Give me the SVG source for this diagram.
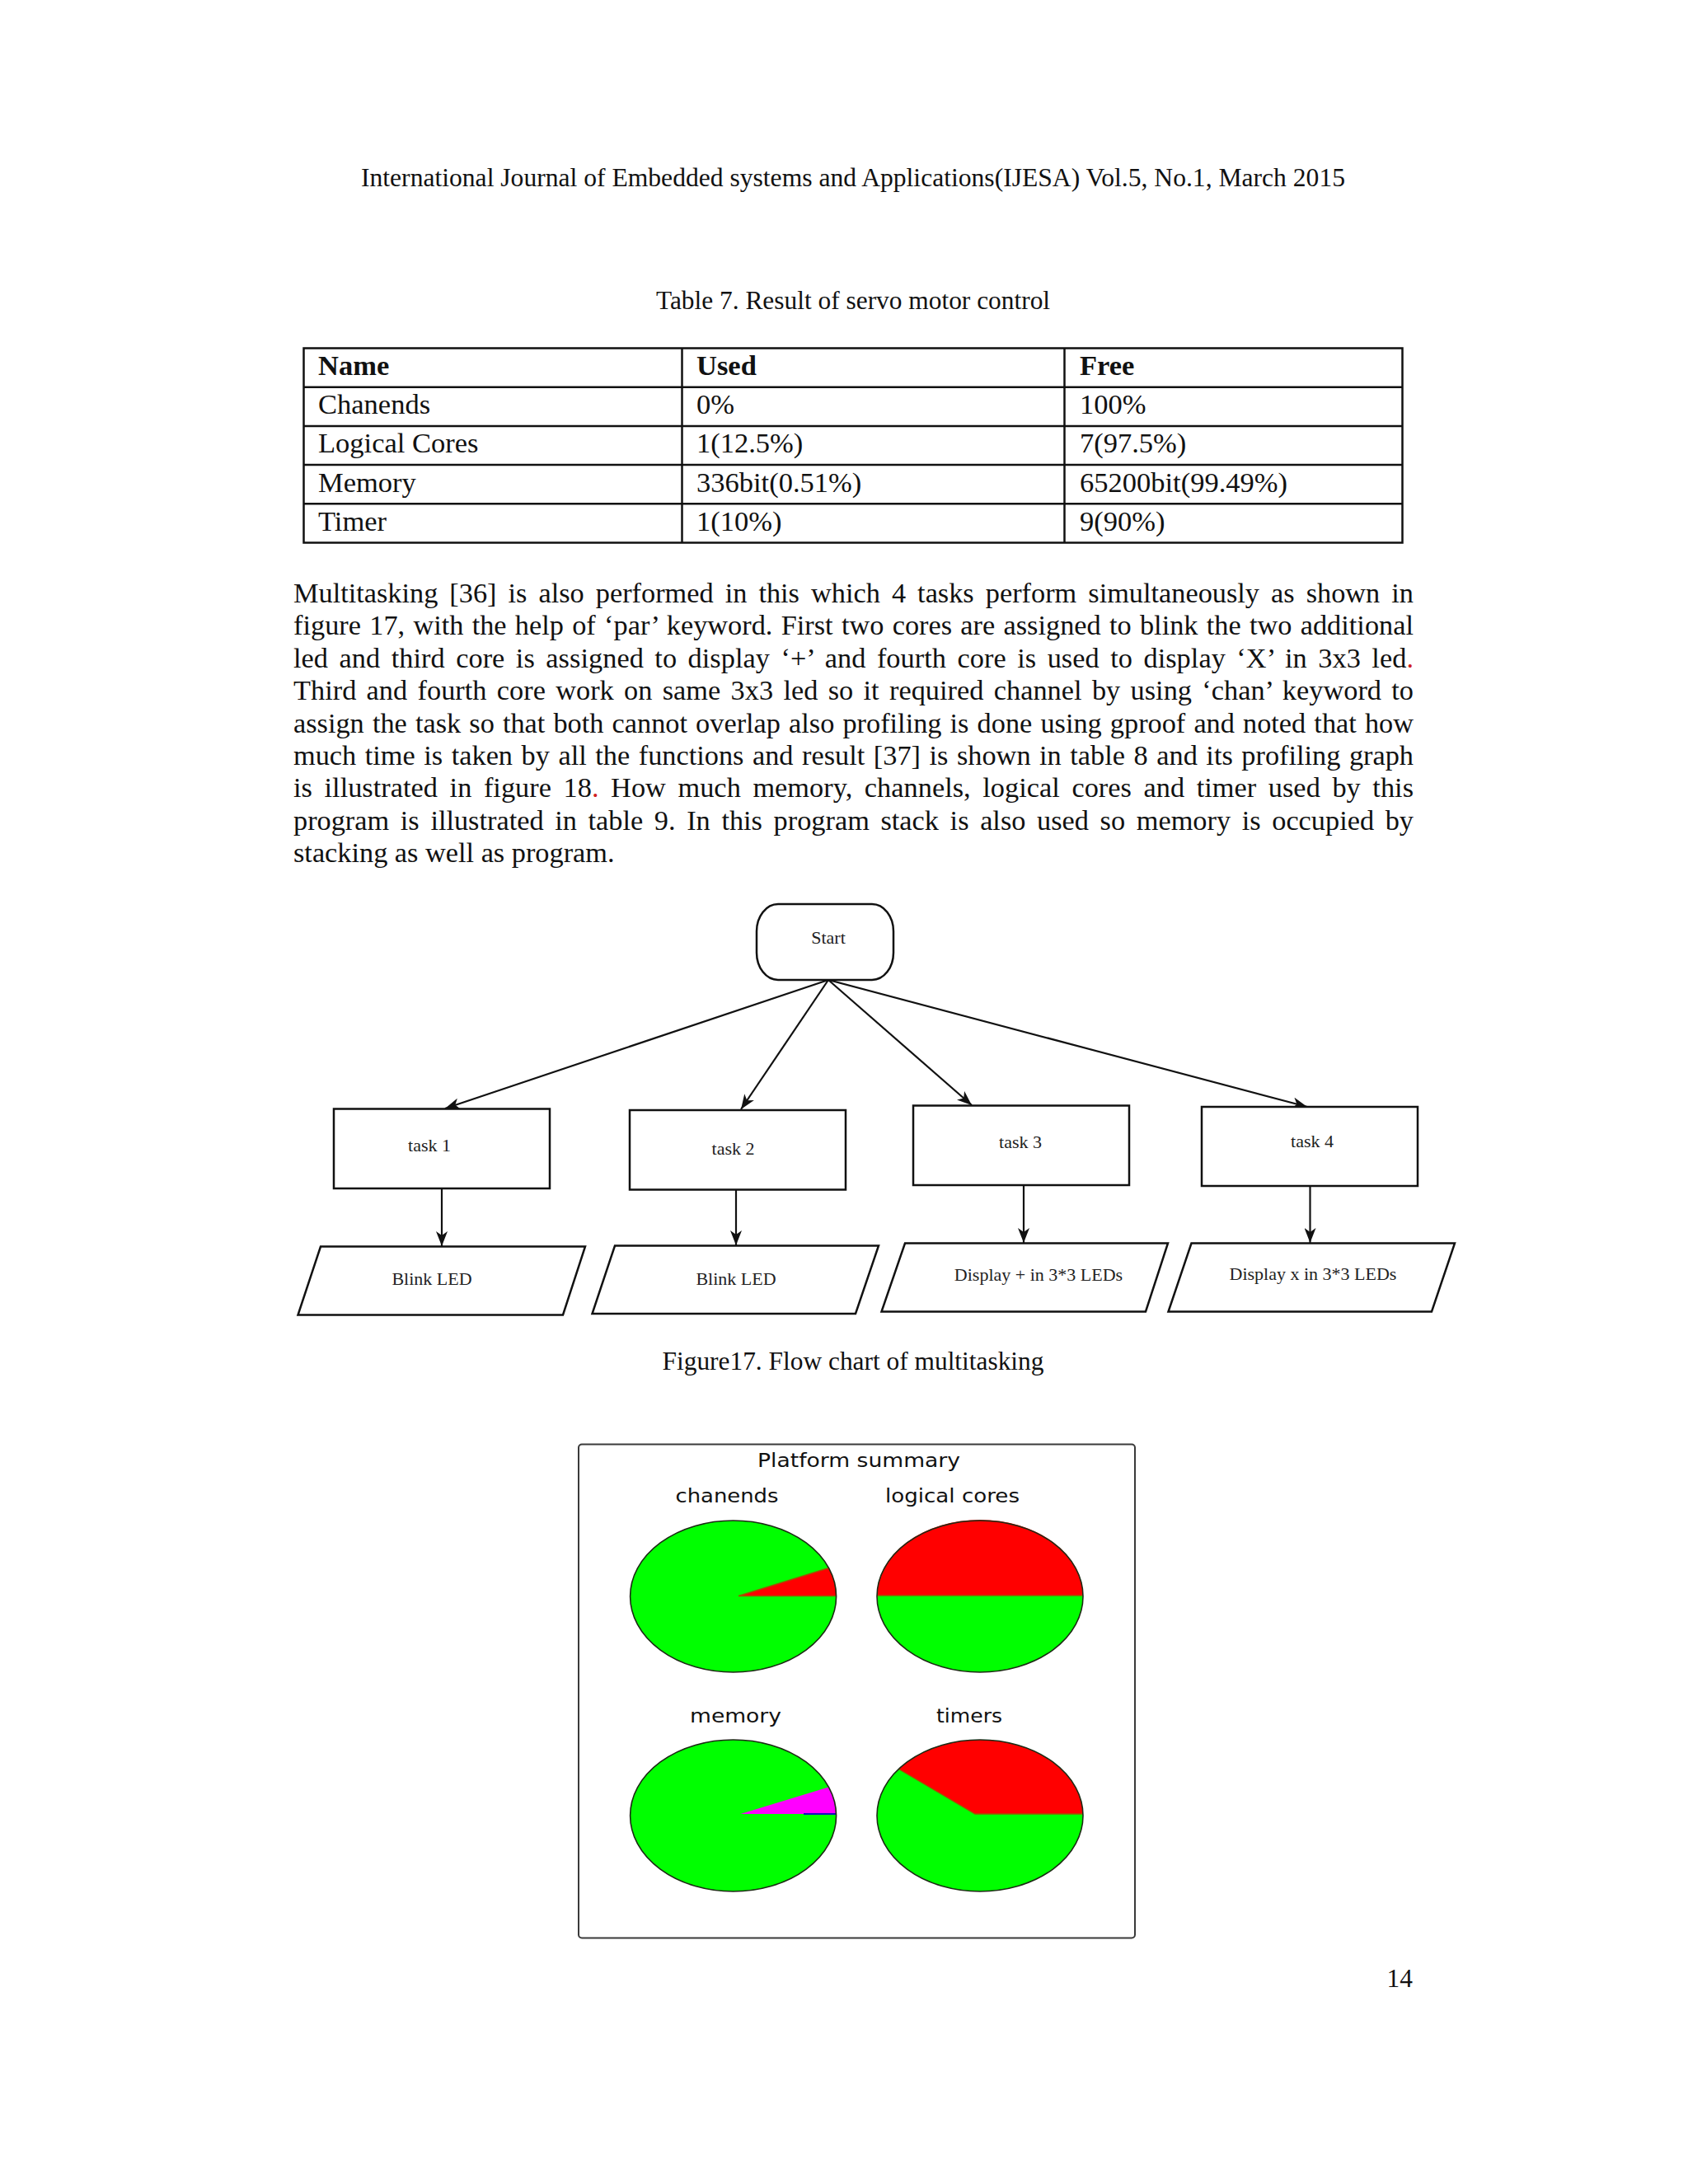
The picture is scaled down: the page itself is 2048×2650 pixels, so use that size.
<svg xmlns="http://www.w3.org/2000/svg" width="2048" height="2650" viewBox="0 0 2048 2650">
<style>
.serif{font-family:"Liberation Serif","Times New Roman",serif;fill:#111}
.hdr{font-size:31.4px}
.cap{font-size:31.4px}
.para{font-size:34.3px}
.tbl{font-size:34.5px}
.tblh{font-size:34.5px;font-weight:bold}
.fc{font-family:"Liberation Serif","Times New Roman",serif;font-size:22px;fill:#222;text-anchor:middle}
.box{fill:#fff;stroke:#111;stroke-width:2.5}
.conn{stroke:#111;stroke-width:2.2;fill:none}
.grid{stroke:#111;stroke-width:2.5;fill:none}
.sans{font-family:"DejaVu Sans","Noto Sans",sans-serif;font-size:23px;fill:#111;text-anchor:middle}
.pieout{fill:none;stroke:#1c2a14;stroke-width:1.6}
.green{fill:#00ff00}
.red{fill:#ff0000}
.mag{fill:#ff00ff}
.seam{stroke:#9a5a00;stroke-width:1.4;fill:none}
</style>
<defs>
<marker id="arr" viewBox="0 0 18 14" refX="18" refY="7" markerWidth="18" markerHeight="14" markerUnits="userSpaceOnUse" orient="auto">
<path d="M0,0 L18,7 L0,14 L5,7 Z" fill="#111"/>
</marker>
</defs>
<rect width="2048" height="2650" fill="#fff"/>

<g id="page-header">
<text class="serif hdr" x="438" y="226" textLength="1194" lengthAdjust="spacingAndGlyphs">International Journal of Embedded systems and Applications(IJESA) Vol.5, No.1, March 2015</text>
</g>

<g id="table7">
<text class="serif cap" x="1035" y="375" text-anchor="middle">Table 7. Result of servo motor control</text>
<rect class="grid" x="368.5" y="422.5" width="1333" height="236"/>
<line class="grid" x1="368.5" y1="469.7" x2="1701.5" y2="469.7"/>
<line class="grid" x1="368.5" y1="516.9" x2="1701.5" y2="516.9"/>
<line class="grid" x1="368.5" y1="564.1" x2="1701.5" y2="564.1"/>
<line class="grid" x1="368.5" y1="611.3" x2="1701.5" y2="611.3"/>
<line class="grid" x1="827.5" y1="422.5" x2="827.5" y2="658.5"/>
<line class="grid" x1="1291.5" y1="422.5" x2="1291.5" y2="658.5"/>
<text class="serif tblh" x="386" y="455">Name</text>
<text class="serif tblh" x="845" y="455">Used</text>
<text class="serif tblh" x="1310" y="455">Free</text>
<text class="serif tbl" x="386" y="502.2">Chanends</text>
<text class="serif tbl" x="845" y="502.2">0%</text>
<text class="serif tbl" x="1310" y="502.2">100%</text>
<text class="serif tbl" x="386" y="549.4">Logical Cores</text>
<text class="serif tbl" x="845" y="549.4">1(12.5%)</text>
<text class="serif tbl" x="1310" y="549.4">7(97.5%)</text>
<text class="serif tbl" x="386" y="596.6">Memory</text>
<text class="serif tbl" x="845" y="596.6">336bit(0.51%)</text>
<text class="serif tbl" x="1310" y="596.6">65200bit(99.49%)</text>
<text class="serif tbl" x="386" y="643.8">Timer</text>
<text class="serif tbl" x="845" y="643.8">1(10%)</text>
<text class="serif tbl" x="1310" y="643.8">9(90%)</text>
</g>

<g id="paragraph">
<text class="serif para" x="356" y="731" word-spacing="5.47" textLength="1359" lengthAdjust="spacing">Multitasking [36] is also performed in this which 4 tasks perform simultaneously as shown in</text>
<text class="serif para" x="356" y="770.4" word-spacing="1.66" textLength="1359" lengthAdjust="spacing">figure 17, with the help of ‘par’ keyword. First two cores are assigned to blink the two additional</text>
<text class="serif para" x="356" y="809.8" word-spacing="4.83" textLength="1359" lengthAdjust="spacing">led and third core is assigned to display ‘+’ and fourth core is used to display ‘X’ in 3x3 led<tspan fill="#d02020">.</tspan></text>
<text class="serif para" x="356" y="849.2" word-spacing="3.68" textLength="1359" lengthAdjust="spacing">Third and fourth core work on same 3x3 led so it required channel by using ‘chan’ keyword to</text>
<text class="serif para" x="356" y="888.6" word-spacing="1.54" textLength="1359" lengthAdjust="spacing">assign the task so that both cannot overlap also profiling is done using gproof and noted that how</text>
<text class="serif para" x="356" y="928" word-spacing="1.98" textLength="1359" lengthAdjust="spacing">much time is taken by all the functions and result [37] is shown in table 8 and its profiling graph</text>
<text class="serif para" x="356" y="967.4" word-spacing="6.0" textLength="1359" lengthAdjust="spacing">is illustrated in figure 18<tspan fill="#d02020">.</tspan> How much memory, channels, logical cores and timer used by this</text>
<text class="serif para" x="356" y="1006.8" word-spacing="5.07" textLength="1359" lengthAdjust="spacing">program is illustrated in table 9. In this program stack is also used so memory is occupied by</text>
<text class="serif para" x="356" y="1046.2">stacking as well as program.</text>
</g>

<g id="connectors">
<line class="conn" x1="1005" y1="1189" x2="540" y2="1345" marker-end="url(#arr)"/>
<line class="conn" x1="1005" y1="1189" x2="899" y2="1346" marker-end="url(#arr)"/>
<line class="conn" x1="1005" y1="1189" x2="1179" y2="1341" marker-end="url(#arr)"/>
<line class="conn" x1="1005" y1="1189" x2="1586" y2="1343" marker-end="url(#arr)"/>
<line class="conn" x1="536" y1="1442" x2="536" y2="1512" marker-end="url(#arr)"/>
<line class="conn" x1="893" y1="1443" x2="893" y2="1511" marker-end="url(#arr)"/>
<line class="conn" x1="1242" y1="1438" x2="1242" y2="1508" marker-end="url(#arr)"/>
<line class="conn" x1="1589.5" y1="1439" x2="1589.5" y2="1508" marker-end="url(#arr)"/>
</g>

<g id="node-start">
<rect class="box" x="918" y="1097" width="166" height="92" rx="26" ry="33"/>
<text class="fc" x="1005" y="1145">Start</text>
</g>
<g id="node-task1">
<rect class="box" x="405" y="1345.5" width="262" height="96.5"/>
<text class="fc" x="521" y="1397">task 1</text>
</g>
<g id="node-task2">
<rect class="box" x="764" y="1347" width="262" height="96.5"/>
<text class="fc" x="889.5" y="1401">task 2</text>
</g>
<g id="node-task3">
<rect class="box" x="1108" y="1341.5" width="262" height="96.5"/>
<text class="fc" x="1238" y="1393">task 3</text>
</g>
<g id="node-task4">
<rect class="box" x="1458" y="1343" width="262" height="96"/>
<text class="fc" x="1592" y="1391.5">task 4</text>
</g>
<g id="node-blink1">
<polygon class="box" points="389,1512.5 710,1512.5 683,1595.5 361.5,1595.5"/>
<text class="fc" x="524" y="1559">Blink LED</text>
</g>
<g id="node-blink2">
<polygon class="box" points="746,1511.5 1066,1511.5 1038,1594 718.5,1594"/>
<text class="fc" x="893" y="1559">Blink LED</text>
</g>
<g id="node-display-plus">
<polygon class="box" points="1098,1508.5 1417,1508.5 1390,1591.5 1069.5,1591.5"/>
<text class="fc" x="1260" y="1554">Display + in 3*3 LEDs</text>
</g>
<g id="node-display-x">
<polygon class="box" points="1445.5,1508.5 1765,1508.5 1737,1591.5 1417.5,1591.5"/>
<text class="fc" x="1593" y="1553">Display x in 3*3 LEDs</text>
</g>

<g id="figure17-caption">
<text class="serif cap" x="1035" y="1662" text-anchor="middle">Figure17. Flow chart of multitasking</text>
</g>

<g id="platform-summary">
<rect x="702" y="1752.5" width="675" height="599" rx="4" fill="#fff" stroke="#3a3a3a" stroke-width="2"/>
<text class="sans" x="1042" y="1779.5" textLength="246" lengthAdjust="spacingAndGlyphs">Platform summary</text>
<text class="sans" x="882" y="1823" textLength="125" lengthAdjust="spacingAndGlyphs">chanends</text>
<text class="sans" x="1155.5" y="1823" textLength="163" lengthAdjust="spacingAndGlyphs">logical cores</text>
<text class="sans" x="892.5" y="2090" textLength="111" lengthAdjust="spacingAndGlyphs">memory</text>
<text class="sans" x="1176" y="2090" textLength="80" lengthAdjust="spacingAndGlyphs">timers</text>

<g id="pie-chanends">
<ellipse class="green" cx="889.6" cy="1937" rx="125" ry="92"/>
<path class="red" d="M896,1936.5 L1005.5,1902.5 A125,92 0 0 1 1014.6,1937 Z"/>
<path class="seam" d="M1005.5,1902.5 L896,1936.5 L1014.6,1936.5"/>
<ellipse class="pieout" cx="889.6" cy="1937" rx="125" ry="92"/>
</g>
<g id="pie-logical-cores">
<ellipse class="green" cx="1189" cy="1937" rx="125" ry="92"/>
<path class="red" d="M1064,1936 A125,92 0 0 1 1314,1936 Z"/>
<line class="seam" x1="1064" y1="1936" x2="1314" y2="1936"/>
<ellipse class="pieout" cx="1189" cy="1937" rx="125" ry="92"/>
</g>
<g id="pie-memory">
<ellipse class="green" cx="889.6" cy="2203" rx="125" ry="92"/>
<path class="mag" d="M898.5,2201 L1005.1,2168.5 A125,92 0 0 1 1014.6,2201 Z"/>
<line x1="975" y1="2201" x2="1014.6" y2="2201" stroke="#1010c0" stroke-width="2"/>
<ellipse class="pieout" cx="889.6" cy="2203" rx="125" ry="92"/>
</g>
<g id="pie-timers">
<ellipse class="green" cx="1189" cy="2203" rx="125" ry="92"/>
<path class="red" d="M1183,2201 L1090.4,2146.5 A125,92 0 0 1 1314,2201 Z"/>
<path class="seam" d="M1090.4,2146.5 L1183,2201 L1314,2201"/>
<ellipse class="pieout" cx="1189" cy="2203" rx="125" ry="92"/>
</g>
</g>

<g id="page-number">
<text class="serif cap" x="1714" y="2411" text-anchor="end">14</text>
</g>
</svg>
